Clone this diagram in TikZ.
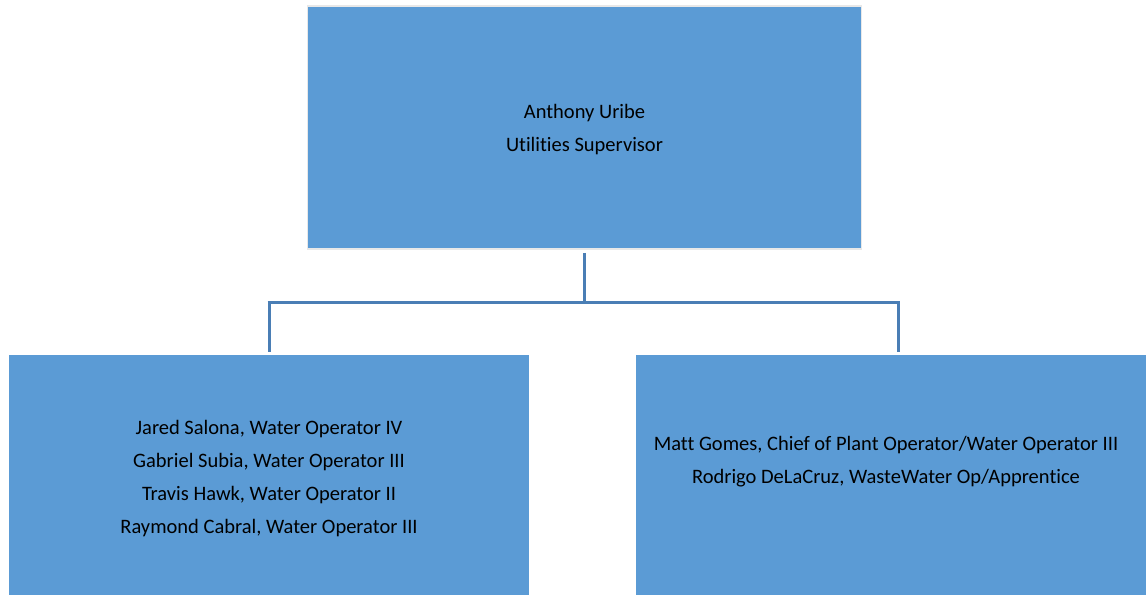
\documentclass[tikz,border=0pt]{standalone}
\usepackage{fontspec}
\setmainfont[Ligatures={NoCommon}]{Carlito}
\usepackage{xcolor}
\usetikzlibrary{positioning,calc}
\definecolor{boxblue}{HTML}{5B9BD5}
\definecolor{lineblue}{HTML}{4A7EB5}
\definecolor{rimgrey}{HTML}{E8E8E8}

\begin{document}
\begin{tikzpicture}[x=1pt, y=-1pt,
    staffbox/.style={fill=boxblue, draw=rimgrey, line width=1.5pt, inner sep=0pt, align=center,
        font=\fontsize{20.5}{33}\selectfont},
    orgline/.style={draw=lineblue, line width=3pt}]
    \useasboundingbox (0,0) rectangle (1146,595);

    % Supervisor
    \node[staffbox, minimum width=554pt, minimum height=243pt] (uribe) at (584.5,127.5) {};
    \node[align=center, font=\fontsize{20.5}{33}\selectfont] (uribename) at (584.5,130)
        {Anthony Uribe\\Utilities Supervisor};

    % Water operators
    \node[staffbox, draw=none, minimum width=520pt, minimum height=240pt] (waterops) at (269,475) {};
    \node[align=center, font=\fontsize{20.5}{33}\selectfont] (waternames) at (269,479)
        {Jared Salona, Water Operator IV\\Gabriel Subia, Water Operator III\\Travis Hawk, Water Operator II\\Raymond Cabral, Water Operator III};

    % Plant operators
    \node[staffbox, draw=none, minimum width=510pt, minimum height=240pt] (plantops) at (891,475) {};
    \node[align=center, font=\fontsize{20.5}{33}\selectfont] (plantnames) at (886,462)
        {Matt Gomes, Chief of Plant Operator/Water Operator III\\Rodrigo DeLaCruz, WasteWater Op/Apprentice};

    % Connectors
    \coordinate (busl) at (269,302);
    \coordinate (busr) at (898,302);
    \draw[orgline, shorten <=3pt] (uribe.south) -- (uribe.south |- busl);
    \draw[orgline] ($(busl)+(-1.5,0)$) -- ($(busr)+(1.5,0)$);
    \draw[orgline, shorten >=2pt] (busl) -- (busl |- waterops.north);
    \draw[orgline, shorten >=2pt] (busr) -- (busr |- plantops.north);
\end{tikzpicture}
\end{document}
